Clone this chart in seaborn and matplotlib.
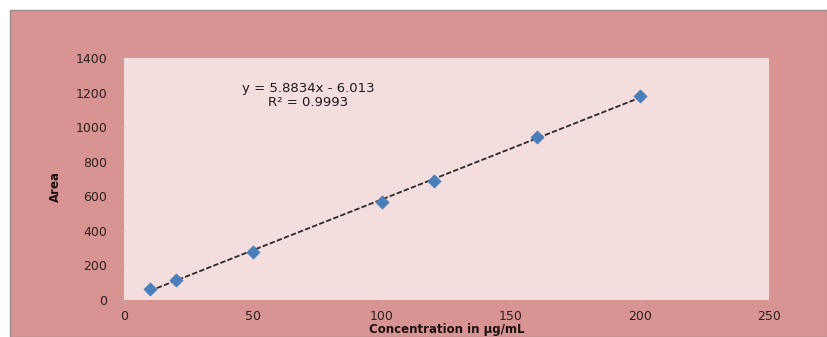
import numpy as np
import pandas as pd
import matplotlib
matplotlib.use("Agg")
import matplotlib.pyplot as plt
import seaborn as sns
from matplotlib.patches import Rectangle

concentration = [10, 20, 50, 100, 120, 160, 200]
area = [64, 116, 278, 567, 688, 943, 1178]
slope = 5.8834
intercept = -6.013
r2_text = "R² = 0.9993"
eq_text = "y = 5.8834x - 6.013"
x_ticks = [0, 50, 100, 150, 200, 250]
y_ticks = [0, 200, 400, 600, 800, 1000, 1200, 1400]

sns.set_theme(style="white")
plt.rcParams['font.family'] = ['DejaVu Sans']

W, H = 827, 337
fig = plt.figure(figsize=(W / 100, H / 100), dpi=100)
fig.patch.set_facecolor("white")
bg = Rectangle((10 / W, 0), 1 - 10 / W, 1 - 10 / H, transform=fig.transFigure,
               facecolor="#D89492", edgecolor="#9a8a8a", linewidth=1.0, zorder=-10)
fig.add_artist(bg)

ax = fig.add_axes([124 / W, 37 / H, (769 - 124) / W, (300 - 58) / H])
ax.set_zorder(5)
ax.set_facecolor("#F3DEDD")

df = pd.DataFrame({"Concentration": concentration, "Area": area})
fit_x = np.array([min(concentration), max(concentration)])
fit_df = pd.DataFrame({"x": fit_x, "y": slope * fit_x + intercept})
sns.lineplot(data=fit_df, x="x", y="y", ax=ax, color="#2a2a2a", linewidth=1.3,
             linestyle=(0, (3, 1.2)), zorder=2)
sns.scatterplot(data=df, x="Concentration", y="Area", ax=ax, marker="D", s=45,
                color="#4A7EBB", edgecolor="#4A7EBB", linewidth=0.5, zorder=3)

ax.set_xlim(0, 250)
ax.set_ylim(0, 1400)
ax.set_xticks(x_ticks)
ax.set_yticks(y_ticks)
for s in ax.spines.values():
    s.set_visible(False)
ax.tick_params(axis="both", which="both", length=3, width=0.6, color="#c8a8a8",
               labelsize=9, labelcolor="#2a2020", direction="out", bottom=True, left=True)
ax.tick_params(axis="x", pad=4)
ax.tick_params(axis="y", pad=9)

ax.set_xlabel("Concentration in µg/mL", fontsize=8.5, fontweight="bold", color="#1a1212")
ax.set_ylabel("Area", fontsize=8.5, fontweight="bold", color="#1a1212")
ax.xaxis.set_label_coords((447 - 124) / 645, (300 - 323.5) / 242)
ax.yaxis.set_label_coords((62 - 124) / 645, 0.47)

ax.text(0.285, 0.875, eq_text, transform=ax.transAxes, ha="center", va="center",
        fontsize=9.5, color="#1a1a1a")
ax.text(0.285, 0.817, r2_text, transform=ax.transAxes, ha="center", va="center",
        fontsize=9.5, color="#1a1a1a")

fig.savefig("out.png", dpi=100, facecolor=fig.get_facecolor())
